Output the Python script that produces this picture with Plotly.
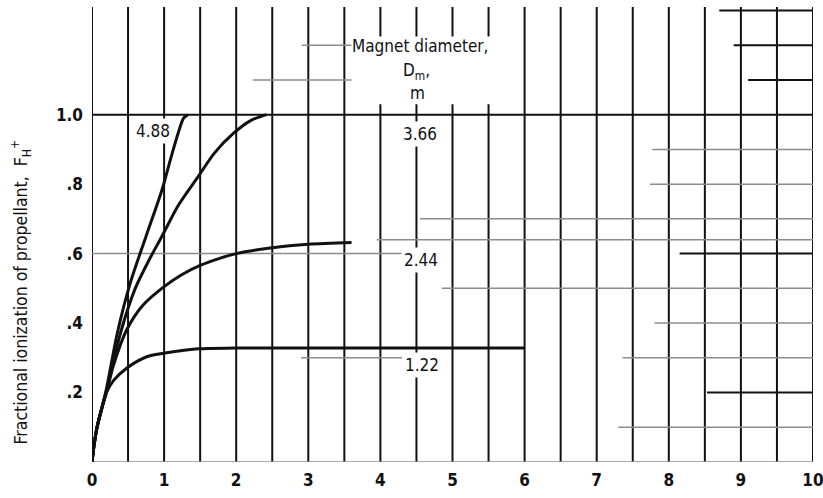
import plotly.graph_objects as go

# Fractional ionization curves, one per magnet diameter D_m (m)
x_488 = [0, 0.03, 0.07, 0.13, 0.2, 0.35, 0.53, 0.75, 0.97, 1.1, 1.2, 1.27, 1.33]
y_488 = [0, 0.05, 0.10, 0.15, 0.21, 0.37, 0.515, 0.65, 0.783, 0.88, 0.95, 0.99, 1.0]

x_366 = [0, 0.03, 0.07, 0.13, 0.2, 0.4, 0.6, 0.8, 0.97, 1.2, 1.47, 1.7, 1.96, 2.2, 2.42]
y_366 = [0, 0.05, 0.10, 0.15, 0.205, 0.375, 0.5, 0.585, 0.65, 0.74, 0.821, 0.89, 0.946, 0.983, 1.0]

x_244 = [0, 0.03, 0.07, 0.13, 0.2, 0.3, 0.48, 0.7, 1.0, 1.25, 1.5, 1.75, 2.0, 2.5, 3.0, 3.6]
y_244 = [0, 0.05, 0.10, 0.15, 0.2, 0.28, 0.38, 0.45, 0.505, 0.54, 0.566, 0.585, 0.6, 0.617, 0.627, 0.632]

x_122 = [0, 0.03, 0.07, 0.13, 0.2, 0.3, 0.48, 0.76, 0.99, 1.47, 2.0, 6.0]
y_122 = [0, 0.05, 0.10, 0.15, 0.2, 0.235, 0.27, 0.303, 0.313, 0.326, 0.328, 0.328]

curve_labels = ["4.88", "3.66", "2.44", "1.22"]
label_x = [0.84, 4.55, 4.56, 4.57]
label_y = [0.953, 0.945, 0.582, 0.279]

x_ticks = [0, 1, 2, 3, 4, 5, 6, 7, 8, 9, 10]
y_ticks = [0.2, 0.4, 0.6, 0.8, 1.0]
y_ticktext = [".2", ".4", ".6", ".8", "1.0"]

# Vertical rules every 0.5 unit
v_grid = [i * 0.5 for i in range(21)]

# Horizontal rule pieces: (y, x start, x end, dark?)
h_y = [1.3, 1.2, 1.2, 1.1, 1.1, 1.0, 0.9, 0.8, 0.7, 0.64, 0.6, 0.6, 0.5, 0.4, 0.3, 0.3, 0.2, 0.1, 0.0]
h_x0 = [8.7, 8.9, 2.91, 9.1, 2.23, 0.0, 7.77, 7.74, 4.55, 3.95, 0.0, 8.15, 4.85, 7.8, 2.9, 7.36, 8.53, 7.3, 0.0]
h_x1 = [10, 10, 3.6, 10, 3.6, 10, 10, 10, 10, 10, 4.3, 10, 10, 10, 4.3, 10, 10, 10, 10]
h_dark = [1, 1, 0, 1, 0, 1, 0, 0, 0, 0, 0, 1, 0, 0, 0, 0, 1, 0, 0]

Y_TOP = 1.31
INK = "#111111"
GREY = "#8c8c8c"
FONT = "Liberation Sans Narrow, DejaVu Sans Condensed, Liberation Sans, sans-serif"

# plot-area geometry in pixels (used to place the rotated axis title)
PLOT_L, PLOT_W, PLOT_B, PLOT_H = 92, 721, 462, 455

fig = go.Figure()

for xs, ys in [(x_488, y_488), (x_366, y_366), (x_244, y_244), (x_122, y_122)]:
    fig.add_trace(go.Scatter(
        x=xs, y=ys, mode="lines",
        line=dict(color=INK, width=3, shape="spline", smoothing=0.8),
        showlegend=False, hoverinfo="skip",
    ))

shapes = []
for xv in v_grid:
    shapes.append(dict(type="line", xref="x", yref="y", x0=xv, x1=xv, y0=0, y1=Y_TOP,
                       line=dict(color=INK, width=2), layer="below"))
for yv, a, b, d in zip(h_y, h_x0, h_x1, h_dark):
    shapes.append(dict(type="line", xref="x", yref="y", x0=a, x1=b, y0=yv, y1=yv,
                       line=dict(color=INK if d else GREY, width=2 if d else 1.5),
                       layer="below"))
# clear panel behind the legend heading
shapes.append(dict(type="rect", xref="x", yref="y", x0=3.62, x1=5.72, y0=1.03, y1=1.225,
                   fillcolor="white", line=dict(width=0), layer="below"))

annotations = []
for t, xv, yv in zip(curve_labels, label_x, label_y):
    annotations.append(dict(x=xv, y=yv, xref="x", yref="y", text=t, showarrow=False,
                            font=dict(family=FONT, size=17, color=INK),
                            bgcolor="white", borderpad=2))
annotations += [
    dict(x=4.55, y=1.197, xref="x", yref="y", text="Magnet diameter,", showarrow=False,
         font=dict(family=FONT, size=17, color=INK)),
    dict(x=4.5, y=1.125, xref="x", yref="y", text="D<sub>m</sub>,", showarrow=False,
         font=dict(family=FONT, size=17, color=INK)),
    dict(x=4.52, y=1.062, xref="x", yref="y", text="m", showarrow=False,
         font=dict(family=FONT, size=17, color=INK)),
    dict(x=(6 - PLOT_L) / PLOT_W, y=(PLOT_B - 292) / PLOT_H, xref="paper", yref="paper",
         textangle=-90,
         text="Fractional ionization of propellant,  F<sub>H</sub><sup>+</sup>",
         showarrow=False, font=dict(family=FONT, size=17.5, color=INK)),
]

fig.update_layout(
    width=823, height=498,
    margin=dict(l=PLOT_L, r=10, t=7, b=36),
    paper_bgcolor="white", plot_bgcolor="white",
    shapes=shapes, annotations=annotations,
    xaxis=dict(range=[0, 10], tickvals=x_ticks, showgrid=False, zeroline=False,
               showline=False, ticks="", ticklabelstandoff=6, ticklabeloverflow="allow",
               automargin=False,
               tickfont=dict(family=FONT, size=17, color=INK, weight="bold")),
    yaxis=dict(range=[0, Y_TOP], tickvals=y_ticks, ticktext=y_ticktext, showgrid=False,
               zeroline=False, showline=False, ticks="", ticklabelstandoff=8,
               automargin=False,
               tickfont=dict(family=FONT, size=17, color=INK, weight="bold")),
)

fig.write_html("out.html")
